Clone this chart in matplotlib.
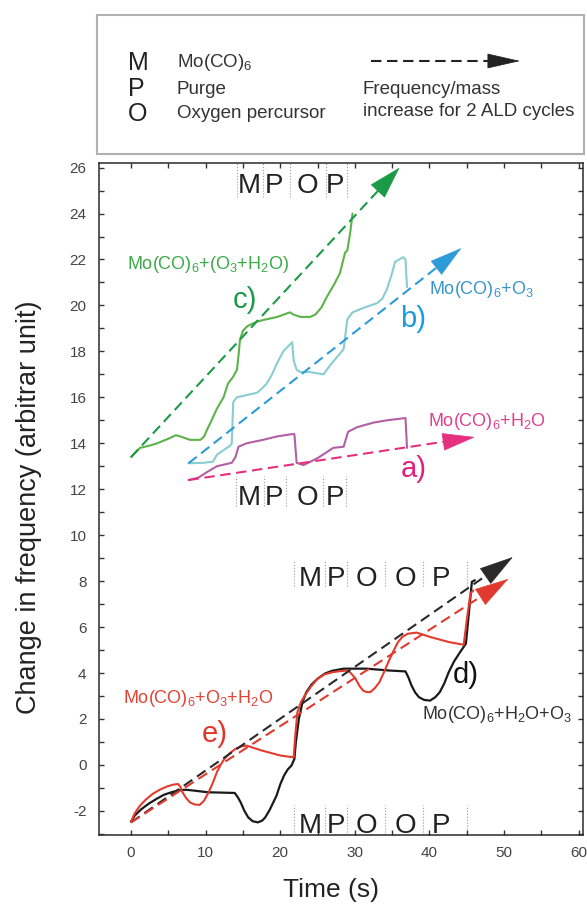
import numpy as np
import matplotlib
matplotlib.use('Agg')
import matplotlib.pyplot as plt
from matplotlib.ticker import MultipleLocator
from matplotlib.patches import Rectangle, FancyArrowPatch
from matplotlib.lines import Line2D

# -------------------------------------------------------------
# 1. STYLE
# -------------------------------------------------------------
plt.rcParams['font.family'] = ['Liberation Sans', 'DejaVu Sans']
plt.rcParams['mathtext.fontset'] = 'custom'
plt.rcParams['mathtext.rm'] = 'Liberation Sans'
plt.rcParams['mathtext.it'] = 'Liberation Sans:italic'
plt.rcParams['mathtext.bf'] = 'Liberation Sans:bold'
plt.rcParams['axes.unicode_minus'] = False

# -------------------------------------------------------------
# 2. DATA
# -------------------------------------------------------------
# c) Mo(CO)6 + (O3+H2O)
t_c = [0, 1.2, 2.5, 3.5, 5.0, 6.0, 6.6, 7.9, 9.3, 9.8, 10.2, 10.8, 11.5, 12.4, 13.0, 13.7, 14.2,
       14.4, 14.6, 15.0, 15.6, 16.9, 18.2, 19.6, 21.3, 21.8, 22.7, 24.0, 24.7, 25.5, 26.3,
       27.2, 28.0, 28.7, 29.0, 29.4, 29.7]
y_c = [13.4, 13.8, 13.9, 14.0, 14.2, 14.35, 14.3, 14.15, 14.15, 14.3, 14.6, 15.0, 15.5, 16.0, 16.6, 16.9, 17.2,
       17.8, 18.5, 18.9, 19.1, 19.3, 19.4, 19.5, 19.7, 19.6, 19.5, 19.5, 19.6, 19.9, 20.4,
       20.9, 21.4, 22.3, 22.4, 23.2, 24.0]

# b) Mo(CO)6 + O3
t_b = [7.7, 9.7, 11.0, 11.5, 12.4, 13.3, 13.5, 13.7, 14.2, 15.5, 16.9, 17.6, 18.2, 18.9, 19.6, 20.4, 21.3,
       21.6, 21.8, 22.2, 22.7, 24.0, 25.8, 26.7, 28.0, 28.5, 29.0, 29.7, 31.2, 33.0, 33.7, 34.3,
       34.9, 35.4, 36.5, 36.8, 37.0]
y_b = [13.13, 13.15, 13.2, 13.5, 13.7, 13.9, 14.0, 15.8, 16.0, 16.1, 16.2, 16.4, 16.6, 17.0, 17.5, 18.0, 18.3,
       18.4, 17.6, 17.2, 17.1, 17.1, 17.0, 17.4, 17.9, 18.1, 19.4, 19.7, 19.9, 20.1, 20.3, 20.7,
       21.3, 21.9, 22.1, 22.0, 20.8]

# a) Mo(CO)6 + H2O
t_a = [7.7, 9.0, 10.2, 11.5, 13.5, 14.0, 14.4, 15.5, 17.7, 19.6, 21.6, 21.9, 22.2, 23.1, 25.0,
       27.1, 28.5, 29.1, 30.3, 32.5, 34.3, 36.8, 37.0]
y_a = [12.4, 12.5, 12.75, 13.0, 13.15, 13.4, 13.85, 14.0, 14.15, 14.3, 14.4, 14.4, 13.15, 13.05, 13.35,
       13.8, 13.85, 14.5, 14.7, 14.9, 15.0, 15.1, 13.8]

# d) Mo(CO)6 + H2O + O3
t_d = [0, 0.5, 1.4, 2.4, 3.4, 4.4, 5.4, 6.4, 7.4, 8.5, 10.3, 13.9, 14.3, 14.7, 15.2, 15.7, 16.3,
       17.0, 17.6, 18.0, 18.6, 19.5, 20.0, 20.5, 21.0, 21.5, 21.9, 22.1, 22.5, 23.0, 23.5, 24.2,
       25.0, 26.0, 27.0, 28.5, 31.6, 34.6, 36.8, 37.2, 37.6, 38.1, 38.6, 39.3, 40.1, 40.8, 41.4,
       42.0, 42.6, 43.3, 44.1, 44.9, 45.4, 45.7, 46.1]
y_d = [-2.47, -2.2, -1.92, -1.68, -1.48, -1.3, -1.19, -1.1, -1.08, -1.12, -1.19, -1.22, -1.4, -1.63, -2.0, -2.28, -2.45,
       -2.5, -2.42, -2.28, -1.95, -1.34, -0.85, -0.47, -0.2, -0.03, 0.26, 1.0, 2.0, 2.75, 3.17, 3.5,
       3.75, 3.98, 4.1, 4.19, 4.19, 4.11, 4.07, 3.8, 3.46, 3.15, 2.95, 2.83, 2.8, 2.95, 3.17,
       3.55, 4.04, 4.5, 4.9, 5.28, 6.95, 7.97, 8.04]

# e) Mo(CO)6 + O3 + H2O
t_e = [0, 0.5, 1.2, 2.0, 2.9, 3.9, 4.9, 5.6, 6.3, 6.6, 6.9, 7.4, 7.9, 8.5, 9.2, 9.8, 10.4, 11.0,
       11.5, 12.0, 12.5, 13.2, 14.0, 14.7, 15.5, 17.5, 20.0, 21.8, 22.0, 22.3, 22.8, 23.3, 24.1,
       25.0, 26.0, 27.1, 28.0, 29.1, 29.6, 30.1, 30.6, 31.1, 31.6, 32.1, 32.7, 33.3, 34.0, 34.6,
       35.2, 35.8, 36.4, 37.1, 38.3, 40.1, 42.6, 44.6, 45.1, 45.5, 45.9]
y_e = [-2.47, -2.1, -1.77, -1.5, -1.26, -1.07, -0.93, -0.86, -0.83, -0.95, -1.19, -1.45, -1.63, -1.72, -1.74, -1.55, -1.19, -0.75,
       -0.32, 0.0, 0.26, 0.5, 0.70, 0.8, 0.84, 0.63, 0.41, 0.33, 1.2, 2.3, 2.75, 3.02, 3.4,
       3.75, 3.95, 4.04, 4.08, 4.11, 3.95, 3.75, 3.45, 3.24, 3.17, 3.17, 3.35, 3.6, 4.1, 4.55,
       4.97, 5.35, 5.58, 5.71, 5.76, 5.57, 5.35, 5.23, 6.51, 7.46, 7.6]

# trend arrows (start, tip)
trend_c_t, trend_c_y = [0, 36.0], [13.4, 26.0]
trend_b_t, trend_b_y = [7.7, 44.3], [13.13, 22.5]
trend_a_t, trend_a_y = [7.7, 46.1], [12.4, 14.27]
trend_d_t, trend_d_y = [0, 51.2], [-2.5, 9.05]
trend_e_t, trend_e_y = [0, 50.6], [-2.5, 8.1]

# step labels
steps_upper = ['M', 'P', 'O', 'P']
steps_upper_t = [15.8, 19.2, 23.6, 27.4]
seps_upper_top = [14.2, 17.7, 21.3, 26.2, 28.9]
seps_upper_bot = [14.1, 17.8, 20.8, 25.8, 28.8]
steps_lower = ['M', 'P', 'O', 'O', 'P']
steps_lower_t = [24.0, 27.5, 31.6, 36.8, 41.6]
seps_lower = [21.9, 26.0, 29.0, 34.0, 39.1, 45.0]

# -------------------------------------------------------------
# 3. FIGURE
# -------------------------------------------------------------
W, H = 587, 908
fig = plt.figure(figsize=(W / 100, H / 100), dpi=100)
fig.patch.set_facecolor('white')
ax = fig.add_axes([99 / W, 1 - 835 / H, (583 - 99) / W, (835 - 163) / H])
ax.set_xlim(-4.3, 60.6)
ax.set_ylim(-3.05, 26.2)

DASH = (0, (5, 2.7))


def trend_arrow(t, y, color, head_len=22, head_w=6.0, ms=10):
    p0 = ax.transData.transform((t[0], y[0]))
    p1 = ax.transData.transform((t[1], y[1]))
    vec = p1 - p0
    L = np.hypot(*vec)
    u = vec / L
    frac = 1 - (head_len * 100 / 72 * 0.7) / L
    ax.plot([t[0], t[0] + (t[1] - t[0]) * frac], [y[0], y[0] + (y[1] - y[0]) * frac],
            ls=DASH, lw=1.5, color=color, zorder=3, solid_capstyle='butt')
    ax.annotate('', xy=(t[1], y[1]), xytext=(-u[0] * head_len, -u[1] * head_len),
                textcoords='offset points',
                arrowprops=dict(arrowstyle=f'-|>,head_length={head_len / ms},head_width={head_w / ms}',
                                mutation_scale=ms, fc=color, ec=color, lw=0.5,
                                shrinkA=0, shrinkB=0), zorder=4)


# curves
kw = dict(solid_joinstyle='round', solid_capstyle='round')
ax.plot(t_c, y_c, color='#5db34a', lw=1.5, zorder=2, **kw)
ax.plot(t_b, y_b, color='#88cdd0', lw=1.5, zorder=2, **kw)
ax.plot(t_a, y_a, color='#b25fa6', lw=1.5, zorder=2, **kw)
ax.plot(t_d, y_d, color='#1a1a1a', lw=1.6, zorder=2, **kw)
ax.plot(t_e, y_e, color='#e33b2e', lw=1.5, zorder=2.5, **kw)

# trend arrows
trend_arrow(trend_c_t, trend_c_y, '#1b9a47', head_len=22, head_w=6.5)
trend_arrow(trend_b_t, trend_b_y, '#2d9bd8', head_len=22, head_w=6.0)
trend_arrow(trend_a_t, trend_a_y, '#e5307f', head_len=22, head_w=6.0)
trend_arrow(trend_d_t, trend_d_y, '#2a2a2a', head_len=23, head_w=6.5)
trend_arrow(trend_e_t, trend_e_y, '#e03a2f', head_len=23, head_w=6.5)


# step labels with dotted separators
def step_group(letters, xs, seps, base, lo, hi):
    for s in seps:
        ax.plot([s, s], [lo, hi], ls=':', lw=0.8, color='#9a9a9a', zorder=1)
    for letter, x in zip(letters, xs):
        ax.text(x, base, letter, ha='center', va='baseline', fontsize=20, color='#222222')


step_group(steps_upper, steps_upper_t, seps_upper_top, 24.9, 24.7, 26.2)
step_group(steps_upper, steps_upper_t, seps_upper_bot, 11.32, 11.25, 12.56)
step_group(steps_lower, steps_lower_t, seps_lower, 7.78, 7.77, 8.93)
step_group(steps_lower, steps_lower_t, seps_lower, -2.97, -3.05, -1.74)

# annotations
ax.text(-0.5, 21.8, 'Mo(CO)$_6$+(O$_3$+H$_2$O)', color='#3bab4a', fontsize=13, va='center')
ax.text(13.7, 20.25, 'c)', color='#1a9a48', fontsize=21, va='center')
ax.text(36.1, 19.4, 'b)', color='#1b9be0', fontsize=21, va='center')
ax.text(40.0, 20.7, 'Mo(CO)$_6$+O$_3$', color='#3b95cc', fontsize=13, va='center')
ax.text(39.8, 14.95, 'Mo(CO)$_6$+H$_2$O', color='#e23f8f', fontsize=13, va='center')
ax.text(36.1, 12.9, 'a)', color='#e0207f', fontsize=21, va='center')
ax.text(-1.1, 2.9, 'Mo(CO)$_6$+O$_3$+H$_2$O', color='#e34236', fontsize=13, va='center')
ax.text(9.45, 1.35, 'e)', color='#e3362b', fontsize=21, va='center')
ax.text(43.1, 3.9, 'd)', color='#111111', fontsize=21, va='center')
ax.text(39.0, 2.18, 'Mo(CO)$_6$+H$_2$O+O$_3$', color='#333333', fontsize=13, va='center')

# axes styling
ax.set_xticks(np.arange(0, 61, 10))
ax.xaxis.set_minor_locator(MultipleLocator(5))
ax.set_yticks(np.arange(-2, 27, 2))
ax.yaxis.set_minor_locator(MultipleLocator(1))
ax.tick_params(which='both', direction='in', top=True, right=True, length=3.6,
               width=1, color='#333333')
ax.tick_params(axis='both', labelsize=11, labelcolor='#444444')
ax.tick_params(axis='x', pad=8)
ax.tick_params(axis='y', pad=9)
for sp in ax.spines.values():
    sp.set_color('#2a2a2a')
    sp.set_linewidth(1.1)

ax.set_xlabel('Time (s)', fontsize=19, color='#222222', va='top')
ax.xaxis.set_label_coords(0.479, -0.064)
ax.set_ylabel('Change in frequency (arbitrar unit)', fontsize=19.5, color='#222222')
ax.yaxis.set_label_coords(-0.118, 0.487)

# -------------------------------------------------------------
# 4. KEY BOX ABOVE THE PLOT
# -------------------------------------------------------------
fig.add_artist(Rectangle((97 / W, 1 - 154 / H), (584 - 97) / W, (154 - 15) / H,
                         transform=fig.transFigure, fill=False, ec='#b0b0b0', lw=1.5))

key_letters = ['M', 'P', 'O']
key_names = ['Mo(CO)$_6$', 'Purge', 'Oxygen percursor']
key_y = [62.5, 89.3, 114.0]
for letter, name, yy in zip(key_letters, key_names, key_y):
    fig.text(128 / W, 1 - yy / H, letter, fontsize=18, va='center', ha='left', color='#222222')
    fig.text(177 / W, 1 - yy / H, name, fontsize=13.5, va='center', ha='left', color='#333333')

fig.text(363 / W, 1 - 90 / H, 'Frequency/mass', fontsize=13.5, va='center', color='#333333')
fig.text(363 / W, 1 - 112 / H, 'increase for 2 ALD cycles', fontsize=13.5, va='center', color='#333333')

fig.add_artist(Line2D([371 / W, 495 / W], [1 - 61 / H, 1 - 61 / H], transform=fig.transFigure,
                      ls=DASH, lw=1.5, color='#222222'))
fig.add_artist(FancyArrowPatch((489 / W, 1 - 61 / H), (520 / W, 1 - 61 / H),
                               transform=fig.transFigure,
                               arrowstyle='-|>,head_length=2.2,head_width=0.5',
                               mutation_scale=10, fc='#222222', ec='#222222', lw=0.5,
                               shrinkA=0, shrinkB=0))

fig.savefig('out.png', dpi=100, facecolor=fig.get_facecolor())
